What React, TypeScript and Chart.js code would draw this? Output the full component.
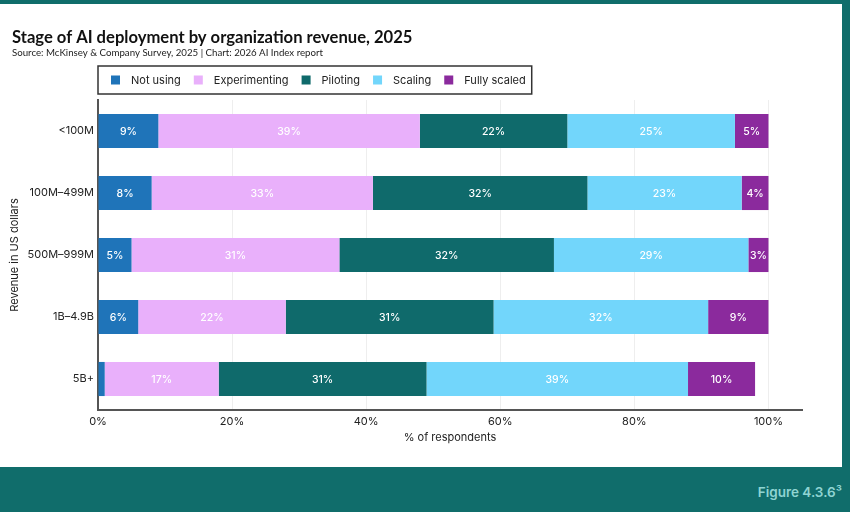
import React, { useEffect, useRef } from "react";
import { Chart, registerables } from "chart.js";
Chart.register(...registerables);

const categories = ["<100M", "100M–499M", "500M–999M", "1B–4.9B", "5B+"];
const seriesNames = ["Not using", "Experimenting", "Piloting", "Scaling", "Fully scaled"];
const notUsing = [9, 8, 5, 6, 1];
const experimenting = [39, 33, 31, 22, 17];
const piloting = [22, 32, 32, 31, 31];
const scaling = [25, 23, 29, 32, 39];
const fullyScaled = [5, 4, 3, 9, 10];
const xTicks = [0, 20, 40, 60, 80, 100];
const seriesColors = ["#1f74b9", "#e9b0fb", "#0f6a6b", "#72d6fb", "#8b2a9d"];

const TITLE = "Stage of AI deployment by organization revenue, 2025";
const SUBTITLE = "Source: McKinsey & Company Survey, 2025 | Chart: 2026 AI Index report";
const FONT = "Inter, 'Noto Sans', sans-serif";
const HFONT = "Lato, 'Noto Sans', sans-serif";

const headerPlugin = {
  id: "header",
  afterDraw(chart: any) {
    const ctx = chart.ctx;
    ctx.save();
    ctx.fillStyle = "#111";
    ctx.textBaseline = "middle";
    ctx.textAlign = "left";
    ctx.font = `700 16.6px ${HFONT}`;
    ctx.fillText(TITLE, 12, 37.5);
    ctx.font = `400 9.7px ${HFONT}`;
    ctx.fillStyle = "#222";
    ctx.fillText(SUBTITLE, 12, 52.5);

    // legend
    const top = 66, bottom = 94, left = 98;
    ctx.font = `400 11px ${FONT}`;
    let x = 111;
    const items: { x: number; label: string; color: string }[] = [];
    chart.data.datasets.forEach((ds: any) => {
      items.push({ x, label: ds.label, color: ds.backgroundColor });
      x += 20 + ctx.measureText(ds.label).width + 13;
    });
    const right = x - 13 + 6;
    ctx.strokeStyle = "#333";
    ctx.lineWidth = 1.5;
    ctx.strokeRect(left, top, right - left, bottom - top);
    const cy = (top + bottom) / 2;
    items.forEach((it) => {
      ctx.fillStyle = it.color;
      ctx.fillRect(it.x, cy - 4.5, 9, 9);
      ctx.fillStyle = "#222";
      ctx.fillText(it.label, it.x + 20, cy + 0.5);
    });
    ctx.restore();
  },
};

const labelPlugin = {
  id: "segLabels",
  afterDatasetsDraw(chart: any) {
    const ctx = chart.ctx;
    ctx.save();
    ctx.font = `500 10.5px ${FONT}`;
    ctx.fillStyle = "#ffffff";
    ctx.textAlign = "center";
    ctx.textBaseline = "middle";
    chart.data.datasets.forEach((ds: any, di: number) => {
      const meta = chart.getDatasetMeta(di);
      meta.data.forEach((el: any, i: number) => {
        const v = ds.data[i];
        if (v < 3) return;
        const cx = (el.x + el.base) / 2;
        ctx.fillText(v + "%", cx, el.y + 0.5);
      });
    });
    ctx.restore();
  },
};

export default function App() {
  const ref = useRef<HTMLCanvasElement>(null);
  useEffect(() => {
    if (!ref.current) return;
    const series = [notUsing, experimenting, piloting, scaling, fullyScaled];
    const chart = new Chart(ref.current, {
      type: "bar",
      data: {
        labels: categories,
        datasets: series.map((d, i) => ({
          label: seriesNames[i],
          data: d,
          backgroundColor: seriesColors[i],
          borderWidth: 0,
          categoryPercentage: 0.55,
          barPercentage: 1,
        })),
      },
      options: {
        indexAxis: "y",
        animation: false,
        responsive: false,
        devicePixelRatio: 1,
        layout: { padding: { left: 0, right: 48, top: 100, bottom: 62 } },
        plugins: {
          legend: { display: false },
          tooltip: { enabled: false },
          title: { display: false },
        },
        scales: {
          x: {
            stacked: true,
            min: 0,
            max: 105,
            afterBuildTicks: (scale: any) => {
              scale.ticks = xTicks.map((v) => ({ value: v }));
            },
            afterFit: (scale: any) => {
              scale.height = 40;
            },
            grid: { color: "#eeeeee", lineWidth: 1, drawTicks: false },
            border: { display: true, color: "#555", width: 2 },
            ticks: {
              padding: 5,
              color: "#222",
              font: { family: FONT, size: 11 },
              callback: (v: any) => v + "%",
            },
            title: {
              display: true,
              text: "% of respondents",
              color: "#222",
              font: { family: FONT, size: 11 },
              padding: { top: 0, bottom: 6 },
            },
          },
          y: {
            stacked: true,
            afterFit: (scale: any) => {
              scale.width = 98;
            },
            grid: { display: false, drawTicks: false },
            border: { display: true, color: "#555", width: 2 },
            ticks: {
              padding: 4,
              color: "#222",
              font: { family: FONT, size: 11 },
            },
            title: {
              display: true,
              text: "Revenue in US dollars",
              color: "#222",
              font: { family: FONT, size: 11 },
              padding: { top: 8, bottom: 0 },
            },
          },
        },
      } as any,
      plugins: [headerPlugin, labelPlugin],
    });
    return () => chart.destroy();
  }, []);

  return (
    <div
      style={{
        position: "fixed",
        left: 0,
        top: 0,
        width: 850,
        height: 512,
        background: "#106d6b",
        overflow: "hidden",
      }}
    >
      <div style={{ position: "absolute", left: 0, top: 4, width: 842, height: 463, background: "#ffffff" }} />
      <div
        style={{
          position: "absolute",
          right: 8,
          top: 483,
          color: "#8fd4d2",
          font: `600 13.5px ${FONT}`,
          lineHeight: "18px",
        }}
      >
        Figure 4.3.6³
      </div>
      <canvas ref={ref} width={850} height={512} style={{ position: "absolute", left: 0, top: 0 }} />
    </div>
  );
}
